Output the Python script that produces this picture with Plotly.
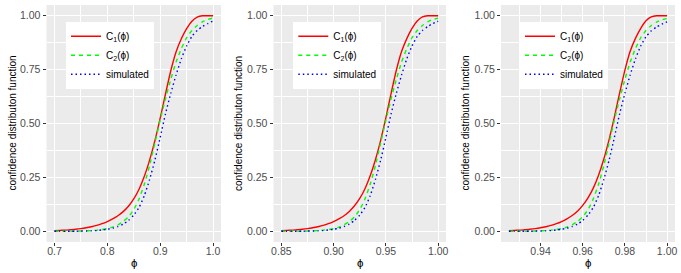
import plotly.graph_objects as go

# ---------------- data ----------------
# Panel 1  (phi from 0.70 to 1.00)
p1_x = [0.70, 0.71, 0.72, 0.73, 0.74, 0.75, 0.76, 0.77, 0.78, 0.79, 0.80, 0.81, 0.82, 0.83, 0.84, 0.85,
        0.86, 0.87, 0.88, 0.89, 0.90, 0.91, 0.92, 0.93, 0.94, 0.95, 0.96, 0.97, 0.98, 0.99, 1.00]
p1_c1 = [0.003, 0.004, 0.005, 0.007, 0.009, 0.012, 0.016, 0.021, 0.027, 0.035, 0.045, 0.057, 0.072, 0.091, 0.116, 0.150,
         0.195, 0.255, 0.330, 0.420, 0.525, 0.637, 0.745, 0.832, 0.893, 0.940, 0.975, 0.994, 1.000, 1.000, 1.000]
p1_c2 = [0.000, 0.000, 0.000, 0.000, 0.001, 0.001, 0.002, 0.003, 0.005, 0.008, 0.012, 0.019, 0.030, 0.045, 0.067, 0.100,
         0.150, 0.218, 0.305, 0.410, 0.515, 0.615, 0.705, 0.785, 0.848, 0.898, 0.932, 0.955, 0.972, 0.983, 0.990]
p1_sim = [0.000, 0.000, 0.000, 0.000, 0.000, 0.001, 0.001, 0.002, 0.003, 0.006, 0.009, 0.014, 0.022, 0.033, 0.050, 0.075,
          0.110, 0.165, 0.240, 0.330, 0.435, 0.545, 0.640, 0.725, 0.800, 0.860, 0.905, 0.932, 0.950, 0.964, 0.976]

# Panel 2  (phi from 0.85 to 1.00)
p2_x = [0.850, 0.855, 0.860, 0.865, 0.870, 0.875, 0.880, 0.885, 0.890, 0.895, 0.900, 0.905, 0.910, 0.915, 0.920, 0.925,
        0.930, 0.935, 0.940, 0.945, 0.950, 0.955, 0.960, 0.965, 0.970, 0.975, 0.980, 0.985, 0.990, 0.995, 1.000]
p2_c1 = [0.003, 0.004, 0.005, 0.007, 0.009, 0.012, 0.016, 0.021, 0.027, 0.035, 0.045, 0.057, 0.072, 0.092, 0.118, 0.152,
         0.197, 0.257, 0.332, 0.422, 0.527, 0.640, 0.747, 0.834, 0.894, 0.941, 0.976, 0.995, 1.000, 1.000, 1.000]
p2_c2 = [0.000, 0.000, 0.000, 0.000, 0.001, 0.001, 0.002, 0.003, 0.005, 0.008, 0.012, 0.019, 0.030, 0.045, 0.067, 0.100,
         0.150, 0.218, 0.305, 0.410, 0.515, 0.615, 0.705, 0.785, 0.848, 0.898, 0.932, 0.955, 0.972, 0.983, 0.989]
p2_sim = [0.000, 0.000, 0.000, 0.000, 0.000, 0.001, 0.001, 0.002, 0.003, 0.006, 0.009, 0.014, 0.022, 0.033, 0.050, 0.075,
          0.110, 0.165, 0.240, 0.330, 0.435, 0.545, 0.640, 0.725, 0.800, 0.860, 0.905, 0.932, 0.950, 0.964, 0.975]

# Panel 3  (phi from 0.925 to 1.00)
p3_x = [0.9250, 0.9275, 0.9300, 0.9325, 0.9350, 0.9375, 0.9400, 0.9425, 0.9450, 0.9475, 0.9500, 0.9525, 0.9550,
        0.9575, 0.9600, 0.9625, 0.9650, 0.9675, 0.9700, 0.9725, 0.9750, 0.9775, 0.9800, 0.9825, 0.9850, 0.9875,
        0.9900, 0.9925, 0.9950, 0.9975, 1.0000]
p3_c1 = [0.003, 0.004, 0.005, 0.007, 0.009, 0.012, 0.016, 0.021, 0.027, 0.035, 0.045, 0.057, 0.073, 0.093, 0.120, 0.155,
         0.200, 0.260, 0.335, 0.425, 0.530, 0.642, 0.748, 0.835, 0.895, 0.942, 0.977, 0.995, 1.000, 1.000, 1.000]
p3_c2 = [0.000, 0.000, 0.000, 0.000, 0.001, 0.001, 0.002, 0.003, 0.005, 0.008, 0.012, 0.019, 0.030, 0.045, 0.067, 0.100,
         0.150, 0.218, 0.305, 0.410, 0.515, 0.615, 0.705, 0.785, 0.848, 0.898, 0.932, 0.955, 0.971, 0.981, 0.987]
p3_sim = [0.000, 0.000, 0.000, 0.000, 0.000, 0.001, 0.001, 0.002, 0.003, 0.006, 0.009, 0.014, 0.022, 0.033, 0.050, 0.075,
          0.110, 0.165, 0.240, 0.330, 0.435, 0.545, 0.640, 0.725, 0.800, 0.860, 0.903, 0.930, 0.948, 0.961, 0.972]

# ticks
x_tickvals = [[0.7, 0.8, 0.9, 1.0], [0.85, 0.90, 0.95, 1.00], [0.94, 0.96, 0.98, 1.00]]
x_ticktext = [["0.7", "0.8", "0.9", "1.0"], ["0.85", "0.90", "0.95", "1.00"], ["0.94", "0.96", "0.98", "1.00"]]
x_minor = [[0.75, 0.85, 0.95], [0.875, 0.925, 0.975], [0.93, 0.95, 0.97, 0.99]]
x_ranges = [[0.685, 1.015], [0.8425, 1.0075], [0.92125, 1.00375]]
y_tickvals = [0, 0.25, 0.5, 0.75, 1.0]
y_ticktext = ["0.00", "0.25", "0.50", "0.75", "1.00"]
y_minor = [0.125, 0.375, 0.625, 0.875]

series_names = ["C<sub>1</sub>(\u03d5)", "C<sub>2</sub>(\u03d5)", "simulated"]
ytitle = "confidence distributon function"
xtitle = "\u03d5"

# ---------------- figure ----------------
W, H = 681, 273
MT, MB = 5, 31
PH = H - MT - MB
domains_px = [(46.5, 221.0), (273.5, 446.0), (501.0, 675.0)]
ytitle_px = [12, 238.5, 465]
legend_px = [(66, 21.7), (293.3, 21.7), (520, 21.7)]

data = [
    (p1_x, [p1_c1, p1_c2, p1_sim]),
    (p2_x, [p2_c1, p2_c2, p2_sim]),
    (p3_x, [p3_c1, p3_c2, p3_sim]),
]
styles = [
    dict(color="#FF0000", dash="solid"),
    dict(color="#00FF00", dash="4px,4px"),
    dict(color="#0000FF", dash="1.5px,3px"),
]

FONT = "Liberation Sans, Arial, sans-serif"
fig = go.Figure()
layout = dict(
    width=W, height=H, autosize=False,
    margin=dict(l=0, r=0, t=MT, b=MB, pad=0),
    paper_bgcolor="white", plot_bgcolor="#EBEBEB",
    font=dict(family=FONT, size=10, color="#4D4D4D"),
    annotations=[],
)

for i in range(3):
    sfx = "" if i == 0 else str(i + 1)
    legname = "legend" + sfx
    xs, ylists = data[i]
    for j in range(3):
        fig.add_trace(go.Scatter(
            x=xs, y=ylists[j], mode="lines", name=series_names[j],
            line=dict(color=styles[j]["color"], dash=styles[j]["dash"], width=1.4,
                      shape="spline", smoothing=0.5),
            xaxis="x" + sfx, yaxis="y" + sfx, legend=legname, showlegend=True,
            hoverinfo="skip",
        ))
    d0, d1 = domains_px[i]
    layout["xaxis" + sfx] = dict(
        domain=[d0 / W, d1 / W], range=x_ranges[i], anchor="y" + sfx,
        tickmode="array", tickvals=x_tickvals[i], ticktext=x_ticktext[i],
        showgrid=True, gridcolor="white", gridwidth=1.1,
        zeroline=False, showline=False,
        ticks="outside", ticklen=3, tickwidth=1, tickcolor="#333333",
        ticklabelstandoff=-4,
        tickfont=dict(size=10.5, color="#4D4D4D", family=FONT),
        minor=dict(tickmode="array", tickvals=x_minor[i], showgrid=True,
                   gridcolor="white", gridwidth=0.55, ticks=""),
        automargin=False, fixedrange=True,
    )
    layout["yaxis" + sfx] = dict(
        domain=[0, 1], range=[-0.05, 1.05], anchor="x" + sfx,
        tickmode="array", tickvals=y_tickvals, ticktext=y_ticktext,
        showgrid=True, gridcolor="white", gridwidth=1.1,
        zeroline=False, showline=False,
        ticks="outside", ticklen=3, tickwidth=1, tickcolor="#333333",
        tickfont=dict(size=10.5, color="#4D4D4D", family=FONT),
        minor=dict(tickmode="array", tickvals=y_minor, showgrid=True,
                   gridcolor="white", gridwidth=0.55, ticks=""),
        automargin=False, fixedrange=True,
    )
    lx, ly = legend_px[i]
    layout[legname] = dict(
        x=lx / W, y=(H - MB - ly) / PH, xanchor="left", yanchor="top",
        xref="paper", yref="paper",
        bgcolor="white", borderwidth=0,
        font=dict(size=10, color="#000000", family=FONT),
        itemwidth=30, tracegroupgap=0,
    )
    layout["annotations"].append(dict(
        text=ytitle, textangle=-90, xref="paper", yref="paper",
        x=ytitle_px[i] / W, y=0.5, xanchor="center", yanchor="middle",
        showarrow=False, font=dict(size=10, color="#000000", family=FONT),
    ))
    layout["annotations"].append(dict(
        text=xtitle, xref="paper", yref="paper",
        x=(d0 + d1) / 2 / W, y=(H - MB - 262.5) / PH, xanchor="center", yanchor="middle",
        showarrow=False, font=dict(size=11.5, color="#000000", family=FONT),
    ))

fig.update_layout(**layout)
fig.write_html(
    "out.html",
    config={"displayModeBar": False},
    post_script="document.body.style.margin='0px';document.body.style.padding='0px';document.body.style.overflow='hidden';",
)
